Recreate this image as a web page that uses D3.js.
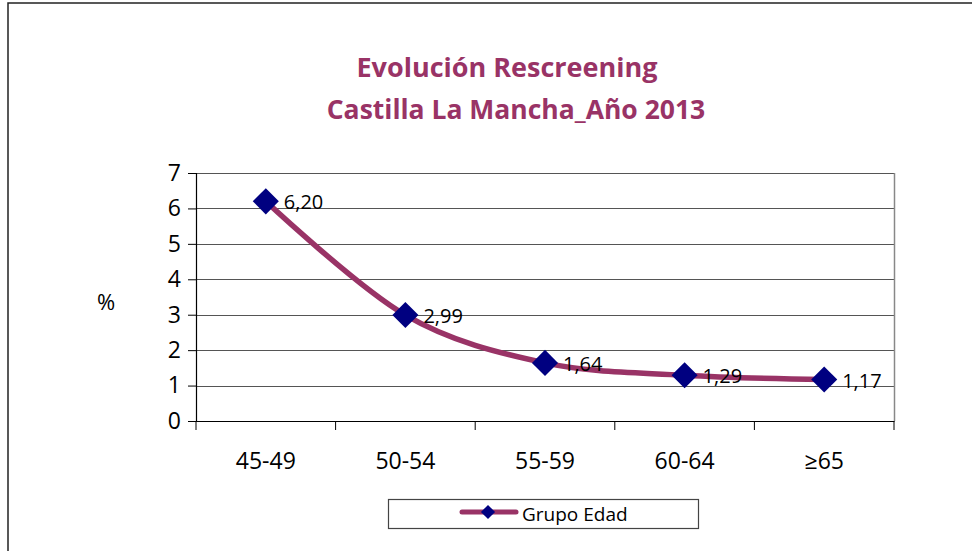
<!DOCTYPE html>
<html>
<head>
<meta charset="utf-8">
<script src="https://cdn.jsdelivr.net/npm/d3@7"></script>
<style>
  html, body { margin: 0; padding: 0; background: #fff; }
  svg { display: block; font-family: "Open Sans", sans-serif; }
</style>
</head>
<body>
<div id="chart"></div>
<script>
// Data ------------------------------------------------------------------------
const categories = ["45-49", "50-54", "55-59", "60-64", "\u226565"];
const values = [6.20, 2.99, 1.64, 1.29, 1.17];
const yTicks = [0, 1, 2, 3, 4, 5, 6, 7];
const titleLines = ["Evolución Rescreening", "Castilla La Mancha_Año 2013"];
const seriesName = "Grupo Edad";

// Layout ----------------------------------------------------------------------
const width = 972;
const height = 551;
const plot = { left: 196, right: 894, top: 173, bottom: 421 };
const lineColor = "#993366";
const markerColor = "#000080";

const svg = d3.select("#chart")
  .append("svg")
  .attr("width", width)
  .attr("height", height);

// Outer chart border (only left and top visible)
svg.append("rect")
  .attr("x", 8)
  .attr("y", 3)
  .attr("width", width + 20)
  .attr("height", height + 20)
  .attr("fill", "none")
  .attr("stroke", "#222")
  .attr("stroke-width", 1.5);

// Title -----------------------------------------------------------------------
svg.append("g")
  .selectAll("text")
  .data(titleLines)
  .join("text")
  .attr("x", (d, i) => i === 0 ? 507 : 516)
  .attr("y", (d, i) => 77 + i * 42)
  .attr("text-anchor", "middle")
  .attr("font-size", (d, i) => i === 0 ? 27 : 26.5)
  .attr("font-weight", "bold")
  .attr("fill", lineColor)
  .text(d => d);

// Scales ----------------------------------------------------------------------
const x = d3.scaleBand()
  .domain(categories)
  .range([plot.left, plot.right]);

const y = d3.scaleLinear()
  .domain([0, 7])
  .range([plot.bottom, plot.top]);

// Gridlines -------------------------------------------------------------------
svg.append("g")
  .selectAll("line")
  .data(yTicks.filter(d => d > 0))
  .join("line")
  .attr("x1", plot.left)
  .attr("x2", plot.right)
  .attr("y1", d => Math.round(y(d)) + 0.5)
  .attr("y2", d => Math.round(y(d)) + 0.5)
  .attr("stroke", "#555")
  .attr("stroke-width", 1.2);

// Right plot border
svg.append("line")
  .attr("x1", plot.right + 0.5)
  .attr("x2", plot.right + 0.5)
  .attr("y1", plot.top)
  .attr("y2", plot.bottom)
  .attr("stroke", "#888")
  .attr("stroke-width", 1.5);

// Axes ------------------------------------------------------------------------
const yAxis = svg.append("g")
  .attr("transform", `translate(${plot.left},0)`)
  .call(d3.axisLeft(y).tickValues(yTicks).tickSize(8).tickPadding(7).tickFormat(d3.format("d")));

const xAxis = svg.append("g")
  .attr("transform", `translate(0,${plot.bottom})`)
  .call(d3.axisBottom(x).tickSize(0).tickPadding(41));

// tick marks at category boundaries
xAxis.selectAll(".boundary")
  .data(d3.range(categories.length + 1))
  .join("line")
  .attr("class", "boundary")
  .attr("x1", i => plot.left + i * x.bandwidth())
  .attr("x2", i => plot.left + i * x.bandwidth())
  .attr("y1", 0)
  .attr("y2", 9)
  .attr("stroke", "#000");

[yAxis, xAxis].forEach(a => {
  a.select(".domain").attr("stroke", "#000").attr("stroke-width", 1.2);
  a.selectAll("text").attr("font-size", 23).attr("fill", "#000")
    .attr("font-family", "'Open Sans', sans-serif");
  a.selectAll(".tick line").attr("stroke", "#000");
});
xAxis.selectAll(".tick text").attr("dy", "0.32em");

// Axis title
svg.append("text")
  .attr("x", 106)
  .attr("y", 310)
  .attr("text-anchor", "middle")
  .attr("font-size", 22)
  .text("%");

// Series ----------------------------------------------------------------------
const points = categories.map((c, i) => [x(c) + x.bandwidth() / 2, y(values[i])]);

svg.append("path")
  .attr("d", d3.line().curve(d3.curveCatmullRom.alpha(0))(points))
  .attr("fill", "none")
  .attr("stroke", lineColor)
  .attr("stroke-width", 5.5)
  .attr("stroke-linecap", "round");

const diamond = d3.symbol().type(d3.symbolSquare).size(340);

svg.append("g")
  .selectAll("path")
  .data(points)
  .join("path")
  .attr("transform", d => `translate(${d[0]},${d[1]}) rotate(45)`)
  .attr("d", diamond)
  .attr("fill", markerColor);

svg.append("g")
  .selectAll("text")
  .data(points)
  .join("text")
  .attr("x", d => d[0] + 18)
  .attr("y", d => d[1] + 8)
  .attr("font-size", 20)
  .text((d, i) => d3.format(".2f")(values[i]).replace(".", ","));

// Legend ----------------------------------------------------------------------
const legend = svg.append("g");
legend.append("rect")
  .attr("x", 388.5)
  .attr("y", 499.5)
  .attr("width", 310)
  .attr("height", 29)
  .attr("fill", "#fff")
  .attr("stroke", "#444")
  .attr("stroke-width", 1.2);
legend.append("line")
  .attr("x1", 462)
  .attr("x2", 516)
  .attr("y1", 512)
  .attr("y2", 512)
  .attr("stroke", lineColor)
  .attr("stroke-width", 5)
  .attr("stroke-linecap", "round");
legend.append("path")
  .attr("transform", "translate(488,512) rotate(45)")
  .attr("d", d3.symbol().type(d3.symbolSquare).size(100))
  .attr("fill", markerColor);
legend.append("text")
  .attr("x", 522)
  .attr("y", 521)
  .attr("font-size", 19)
  .text(seriesName);
</script>
</body>
</html>
